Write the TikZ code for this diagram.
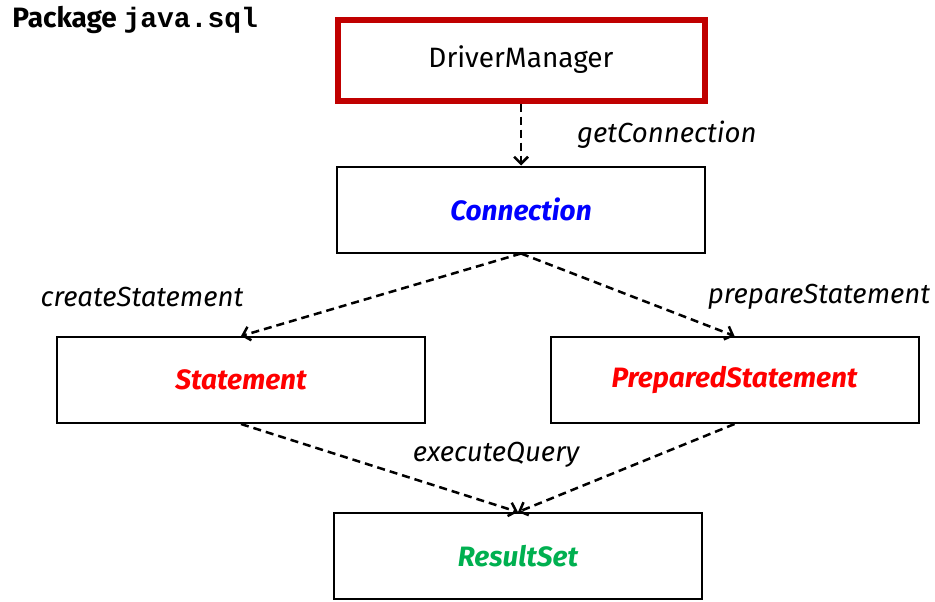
\documentclass[tikz,border=0pt]{standalone}
\usepackage{fontspec}
\setmainfont{Fira Sans}
\setmonofont{Liberation Mono}
\usetikzlibrary{arrows.meta, positioning}

\definecolor{boxred}{RGB}{192,0,0}
\definecolor{clsblue}{RGB}{0,0,255}
\definecolor{clsred}{RGB}{255,0,0}
\definecolor{clsgreen}{RGB}{0,176,80}

\begin{document}
\begin{tikzpicture}[
    x=0.5pt, y=-0.5pt,
    cls/.style={rectangle, draw=black, line width=1pt, minimum width=184pt, minimum height=43pt, text centered, font=\fontsize{14}{16}\selectfont\bfseries\itshape},
    mgr/.style={rectangle, draw=boxred, line width=3pt, minimum width=183.5pt, minimum height=40.5pt, text centered, font=\fontsize{14}{16}\selectfont},
    lbl/.style={font=\fontsize{13.8}{16}\selectfont\itshape},
    arrow/.style={line width=1.25pt, dash pattern=on 4pt off 2.5pt, -{Straight Barb[length=3.5pt, width=7pt]}}
]
\useasboundingbox (0,0) rectangle (935,601);

% Title
\node[anchor=west, inner sep=0pt] (title) at (12,20) {\fontsize{14}{16}\selectfont\bfseries Package \texttt{java.sql}};

% Driver manager
\node[mgr] (dm) at (521,60) {DriverManager};

% Connection
\node[cls, text=clsblue, below=31pt of dm] (conn) {Connection};

% Statements
\node[cls, text=clsred] (stmt) at (241,380) {Statement};
\node[cls, text=clsred] (prep) at (734.5,380) {PreparedStatement};

% Result set
\node[cls, text=clsgreen] (rs) at (518,556) {ResultSet};

% Arrows
\draw[arrow] (dm) -- (conn);
\draw[arrow] (conn.south) -- (stmt.north);
\draw[arrow] (conn.south) -- (prep.north);
\draw[arrow] (stmt.south) -- (rs.north);
\draw[arrow] (prep.south) -- (rs.north);

% Labels
\node[lbl, anchor=west] (getlbl) at (570,135) {getConnection};
\node[lbl] (createlbl) at (142,297) {createStatement};
\node[lbl] (preplbl) at (819,297) {prepareStatement};
\node[lbl] (execlbl) at (496,455) {executeQuery};

\end{tikzpicture}
\end{document}
